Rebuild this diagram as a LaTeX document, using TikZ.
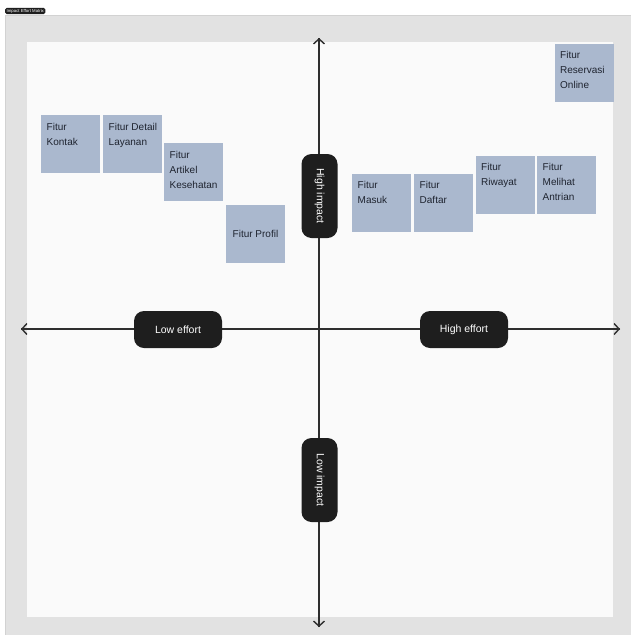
\documentclass[tikz,border=0pt]{standalone}
\usepackage{fontspec}
\setmainfont{Liberation Sans}
\usetikzlibrary{arrows.meta}
\definecolor{framegray}{HTML}{E2E2E2}
\definecolor{framedge}{HTML}{D2D2D2}
\definecolor{canvas}{HTML}{FAFAFA}
\definecolor{pillfill}{HTML}{1E1E1E}
\definecolor{stickyfill}{HTML}{AAB8CE}
\definecolor{stickytext}{HTML}{1F2430}
\definecolor{axiscol}{HTML}{2E2E2E}
\tikzset{
  sticky/.style={fill=stickyfill, anchor=north west, inner sep=5.5pt, text=stickytext, font=\fontsize{10}{15}\selectfont},
  pill/.style={fill=pillfill, text=white, rounded corners=10pt, font=\fontsize{10.5}{12}\selectfont, inner sep=0pt},
  hpill/.style={pill, minimum width=88pt, minimum height=37pt},
  vpill/.style={pill, minimum width=36pt, minimum height=84pt},
  axis/.style={draw=axiscol, line width=1.6pt, -{Straight Barb[length=5pt,width=11pt,line width=1.4pt]}},
}
\newcommand{\stickytxt}[1]{\parbox[t][47pt][t]{48pt}{\vspace*{2.5pt}\raggedright #1}}
\begin{document}
\begin{tikzpicture}[x=1pt,y=-1pt]
\useasboundingbox (0,0) rectangle (631,635);
\fill[white] (0,0) rectangle (631,635);
% frame
\filldraw[fill=framegray, draw=framedge, line width=0.6pt] (5,15) rectangle (632,636);
\fill[canvas] (27,42) rectangle (613,617);
% title
\node[fill=pillfill, text=white, rounded corners=1.5pt, inner xsep=1.5pt, inner ysep=1pt, font=\fontsize{4.3}{5}\selectfont, anchor=west] (title) at (5,11) {Impact Effort Matrix};
% axes
\coordinate (top) at (319,38);
\coordinate (bottom) at (319,627);
\coordinate (left) at (21,329);
\coordinate (right) at (620,329);
\draw[axis] (bottom) -- (top);
\draw[axis] (top) -- (bottom);
\draw[axis] (right) -- (left);
\draw[axis] (left) -- (right);
% pills
\node[hpill] (loweffort) at (178,329.5) {Low effort};
\node[hpill] (higheffort) at (464,329.5) {High effort};
\node[vpill] (highimpact) at (319.5,196) {\rotatebox{-90}{High impact}};
\node[vpill] (lowimpact) at (319.5,480) {\rotatebox{-90}{Low impact}};
% stickies
\node[sticky] (kontak) at (41,115) {\stickytxt{Fitur\\Kontak}};
\node[sticky] (detail) at (103,115) {\stickytxt{\mbox{Fitur Detail}\\Layanan}};
\node[sticky] (artikel) at (164,143) {\stickytxt{Fitur\\Artikel\\Kesehatan}};
\node[sticky, anchor=center, minimum width=59pt, minimum height=58pt, inner sep=0pt] (profil) at (255.5,234) {Fitur Profil};
\node[sticky] (masuk) at (352,173.5) {\stickytxt{Fitur\\Masuk}};
\node[sticky] (daftar) at (414,173.5) {\stickytxt{Fitur\\Daftar}};
\node[sticky] (riwayat) at (475.5,155.5) {\stickytxt{Fitur\\Riwayat}};
\node[sticky] (antrian) at (537,155.5) {\stickytxt{Fitur\\Melihat\\Antrian}};
\node[sticky] (reservasi) at (554.5,43.5) {\stickytxt{Fitur\\Reservasi\\Online}};
\end{tikzpicture}
\end{document}
